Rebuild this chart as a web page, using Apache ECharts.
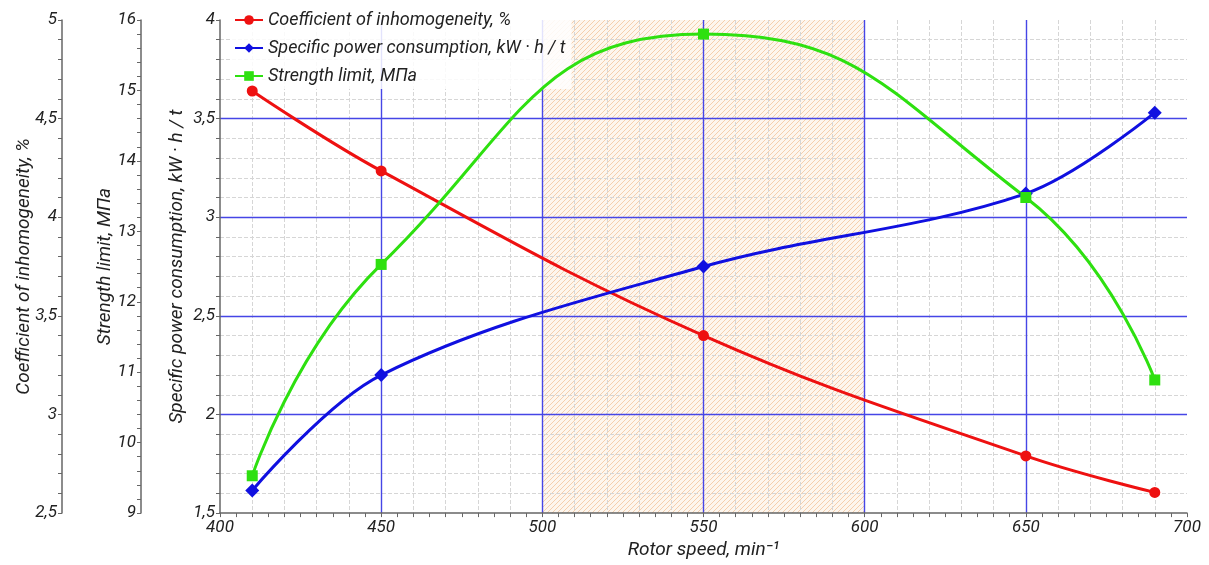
<!DOCTYPE html>
<html>
<head>
<meta charset="utf-8">
<script src="https://cdn.jsdelivr.net/npm/echarts@6/dist/echarts.min.js"></script>
<style>
html, body { margin: 0; padding: 0; background: #fff; }
#echarts-main { width: 1209px; height: 565px; }
</style>
</head>
<body>
<div id="echarts-main"></div>
<script>
// data
var rotorSpeed = [410, 450, 550, 650, 690];
var inhomogeneity = [4.64, 4.235, 3.40, 2.79, 2.605];
var powerConsumption = [1.615, 2.20, 2.75, 3.12, 3.53];
var strengthLimit = [9.53, 12.53, 15.80, 13.48, 10.89];
var hatchRange = [500, 600];

var seriesNames = [
    'Coefficient of inhomogeneity, %',
    'Specific power consumption, kW · h / t',
    'Strength limit, МПа'
];

function pairs(ys) {
    return rotorSpeed.map(function (x, i) { return [x, ys[i]]; });
}
function comma(v) { return String(v).replace('.', ','); }

// hatch pattern for the 500-600 band
var pat = document.createElement('canvas');
pat.width = 5; pat.height = 5;
var pc = pat.getContext('2d');
pc.fillStyle = 'rgba(252,240,226,0.6)';
pc.fillRect(0, 0, 5, 5);
pc.strokeStyle = 'rgba(238,175,120,0.55)';
pc.lineWidth = 1;
pc.beginPath();
pc.moveTo(0, 5); pc.lineTo(5, 0);
pc.moveTo(-1, 1); pc.lineTo(1, -1);
pc.moveTo(4, 6); pc.lineTo(6, 4);
pc.stroke();

var font = 'Roboto';
var txt = { fontFamily: font, fontStyle: 'italic', color: '#222', fontSize: 17 };
var nameTxt = { fontFamily: font, fontStyle: 'italic', color: '#222', fontSize: 19 };
var axisGray = '#666';
var gridBlue = '#4646e6';
var minorGray = '#d6d6d6';

function yAx(min, max, step, offset, name, gap, withGrid) {
    return {
        type: 'value', position: 'left', offset: offset, z: 4,
        min: min, max: max, interval: step,
        name: name, nameLocation: 'middle', nameGap: gap, nameTextStyle: nameTxt,
        nameMoveOverlap: false,
        axisLine: { show: true, lineStyle: { color: axisGray, width: 1.5 } },
        axisTick: { show: true, length: 4, lineStyle: { color: axisGray } },
        minorTick: { show: true, splitNumber: 5, length: 4, lineStyle: { color: axisGray } },
        axisLabel: Object.assign({ formatter: comma, margin: 5 }, txt),
        splitLine: withGrid ? { show: true, showMinLine: false, showMaxLine: false, lineStyle: { color: gridBlue, width: 1.4 } } : { show: false },
        minorSplitLine: withGrid ? { show: true, lineStyle: { color: minorGray, type: 'dashed', width: 1 } } : { show: false }
    };
}

var myChart = echarts.init(document.getElementById('echarts-main'));

var option = {
    animation: false,
    grid: { left: 220, right: 22, top: 20, bottom: 45 },
    legend: {
        orient: 'vertical', left: 230, top: 7, z: 5,
        itemWidth: 28, itemHeight: 12, itemGap: 10,
        backgroundColor: 'rgba(255,255,255,0.85)',
        padding: [4, 6, 4, 4],
        textStyle: { fontFamily: font, fontStyle: 'italic', color: '#222', fontSize: 18 },
        data: seriesNames
    },
    xAxis: [{
        type: 'value', min: 400, max: 700, interval: 50, z: 4,
        name: 'Rotor speed, min⁻¹', nameLocation: 'middle', nameGap: 26, nameTextStyle: nameTxt,
        axisLine: { lineStyle: { color: axisGray, width: 1.5 } },
        axisTick: { show: true, length: 4, lineStyle: { color: axisGray } },
        minorTick: { show: true, splitNumber: 10, length: 4, lineStyle: { color: axisGray } },
        axisLabel: Object.assign({ margin: 6 }, txt),
        splitLine: { show: true, showMinLine: false, showMaxLine: false, lineStyle: { color: gridBlue, width: 1.4 } }
    }, {
        type: 'value', min: 400, max: 700, interval: 10, position: 'bottom', z: 3,
        axisLine: { show: false }, axisTick: { show: false }, axisLabel: { show: false },
        splitLine: { show: true, showMinLine: false, showMaxLine: false, lineStyle: { color: minorGray, type: 'dashed', width: 1 } }
    }],
    yAxis: [
        yAx(1.5, 4, 0.5, 0, 'Specific power consumption, kW · h / t', 33, true),
        yAx(9, 16, 1, 79, 'Strength limit, МПа', 26, false),
        yAx(2.5, 5, 0.5, 158, 'Coefficient of inhomogeneity, %', 28, false)
    ],
    series: [
        {
            name: 'band', type: 'line', data: [], z: 1, silent: true,
            markArea: {
                silent: true,
                itemStyle: { color: { image: pat, repeat: 'repeat' } },
                data: [[{ xAxis: hatchRange[0] }, { xAxis: hatchRange[1] }]]
            }
        },
        {
            name: seriesNames[0], type: 'line', yAxisIndex: 2, smooth: 0.4,
            data: pairs(inhomogeneity),
            symbol: 'circle', symbolSize: 11,
            lineStyle: { color: '#ee1111', width: 3 },
            itemStyle: { color: '#ee1111' },
            z: 6
        },
        {
            name: seriesNames[1], type: 'line', yAxisIndex: 0, smooth: 0.35,
            data: pairs(powerConsumption),
            symbol: 'diamond', symbolSize: 14,
            lineStyle: { color: '#1010e0', width: 3 },
            itemStyle: { color: '#1010e0' },
            z: 6
        },
        {
            name: seriesNames[2], type: 'line', yAxisIndex: 1, smooth: 0.5,
            data: pairs(strengthLimit),
            symbol: 'rect', symbolSize: 11,
            lineStyle: { color: '#2ee010', width: 3 },
            itemStyle: { color: '#2ee010' },
            z: 6
        }
    ]
};

myChart.setOption(option);
</script>
</body>
</html>
